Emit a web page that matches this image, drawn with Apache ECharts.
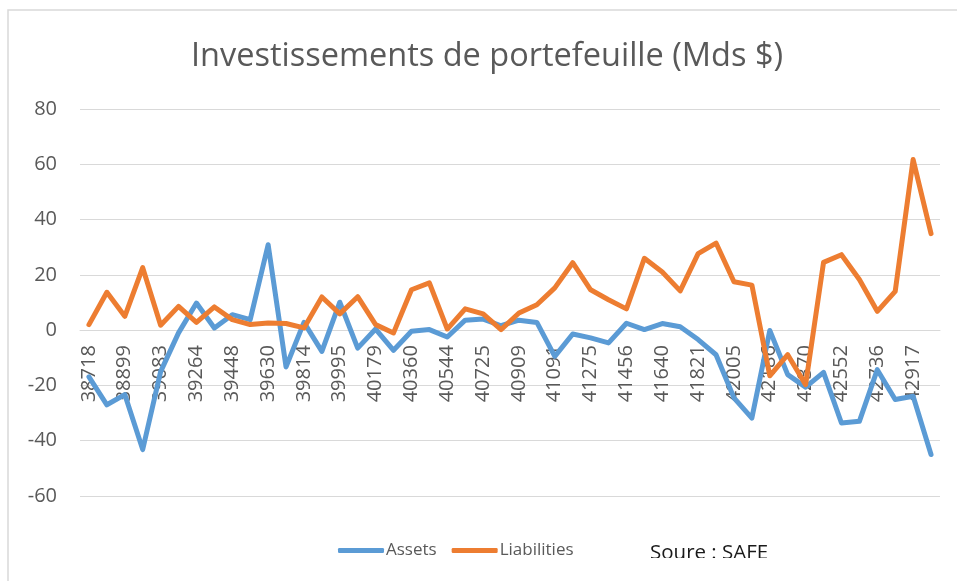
<!DOCTYPE html>
<html>
<head>
<meta charset="utf-8">
<script src="https://cdn.jsdelivr.net/npm/echarts@6/dist/echarts.min.js"></script>
<style>
  html, body { margin: 0; padding: 0; background: #fff; }
  #chart { width: 957px; height: 581px; }
</style>
</head>
<body>
<div id="chart"></div>
<script>
// Excel date serials (quarterly), shown as raw numbers like in the source sheet
var categories = [
  38718, 38808, 38899, 38991, 39083, 39173, 39264, 39356,
  39448, 39539, 39630, 39722, 39814, 39904, 39995, 40087,
  40179, 40269, 40360, 40452, 40544, 40634, 40725, 40817,
  40909, 41000, 41091, 41183, 41275, 41365, 41456, 41548,
  41640, 41730, 41821, 41913, 42005, 42095, 42186, 42278,
  42370, 42461, 42552, 42644, 42736, 42826, 42917, 43009
]
var assets = [
  -16.9, -27.0, -23.3, -43.2, -15.0, -1.0, 9.8, 0.8,
  5.6, 3.8, 30.9, -13.3, 2.8, -7.7, 10.1, -6.5,
  0.4, -7.3, -0.4, 0.2, -2.5, 3.6, 4.0, 1.6,
  3.6, 2.8, -9.5, -1.4, -2.8, -4.6, 2.5, 0.2,
  2.4, 1.2, -3.4, -8.9, -24.5, -31.8, -0.1, -16.1,
  -20.6, -15.3, -33.6, -33.0, -14.3, -25.1, -23.9, -45.0
]
var liabilities = [
  2.0, 13.7, 5.0, 22.6, 1.8, 8.6, 2.8, 8.4,
  3.8, 2.0, 2.6, 2.4, 0.8, 12.0, 5.9, 12.1,
  2.0, -1.0, 14.6, 17.1, 0.4, 7.7, 5.9, 0.2,
  6.2, 9.2, 15.3, 24.4, 14.6, 11.0, 7.7, 26.0,
  21.0, 14.2, 27.7, 31.5, 17.5, 16.3, -16.5, -8.9,
  -19.7, 24.5, 27.3, 18.3, 6.8, 14.0, 61.7, 34.9
]
var yMin = -60
var yMax = 80
var yStep = 20

var font = 'Open Sans'
var textGray = '#595959'

var gridTop = 109
var gridBottom = 85
var plotHeight = 581 - gridTop - gridBottom
// category labels sit on the zero line, like Excel does with negative values
var zeroOffset = -plotHeight * (0 - yMin) / (yMax - yMin)

var chart = echarts.init(document.getElementById('chart'))
chart.setOption({
  animation: false,
  title: {
    text: 'Investissements de portefeuille (Mds $)',
    left: 487,
    top: 40,
    textAlign: 'center',
    padding: 0,
    textStyle: {
      fontFamily: font,
      fontSize: 32.5,
      fontWeight: 'normal',
      color: textGray
    }
  },
  grid: {
    left: 80,
    right: 17,
    top: gridTop,
    bottom: gridBottom,
    containLabel: false
  },
  legend: {
    data: ['Assets', 'Liabilities'],
    left: 333,
    top: 537,
    itemWidth: 46,
    itemHeight: 5,
    itemGap: 15,
    icon: 'roundRect',
    textStyle: {
      fontFamily: font,
      fontSize: 17,
      color: textGray,
      padding: [0, 0, 0, -3]
    }
  },
  xAxis: {
    type: 'category',
    data: categories,
    boundaryGap: true,
    offset: zeroOffset,
    axisLine: { onZero: false, lineStyle: { color: '#d9d9d9', width: 1 } },
    axisTick: { show: false },
    axisLabel: {
      interval: 1,
      rotate: 90,
      margin: 15,
      fontFamily: font,
      fontSize: 20,
      color: textGray
    }
  },
  yAxis: {
    type: 'value',
    min: yMin,
    max: yMax,
    interval: yStep,
    axisLine: { show: false },
    axisTick: { show: false },
    axisLabel: {
      margin: 23,
      fontFamily: font,
      fontSize: 20,
      color: textGray
    },
    splitLine: { lineStyle: { color: '#d9d9d9', width: 1 } }
  },
  series: [
    {
      name: 'Assets',
      type: 'line',
      data: assets,
      showSymbol: false,
      symbol: 'none',
      color: '#5B9BD5',
      lineStyle: { width: 5, cap: 'round', join: 'round' }
    },
    {
      name: 'Liabilities',
      type: 'line',
      data: liabilities,
      showSymbol: false,
      symbol: 'none',
      color: '#ED7D31',
      lineStyle: { width: 5, cap: 'round', join: 'round' }
    }
  ],
  graphic: [
    // outer chart frame (only left and top edges are visible in the crop)
    {
      type: 'rect',
      shape: { x: 8, y: 10, width: 1100, height: 800 },
      style: { fill: null, stroke: '#d9d9d9', lineWidth: 1.5 },
      silent: true
    },
    {
      type: 'text',
      left: 650,
      top: 543,
      style: {
        text: 'Soure : SAFE',
        fontFamily: font,
        fontSize: 20.5,
        fill: '#1a1a1a'
      },
      z: 10
    },
    // the source note is cut off at the bottom in the original
    {
      type: 'rect',
      shape: { x: 640, y: 558, width: 160, height: 30 },
      style: { fill: '#fff' },
      z: 20,
      silent: true
    }
  ]
})
</script>
</body>
</html>
